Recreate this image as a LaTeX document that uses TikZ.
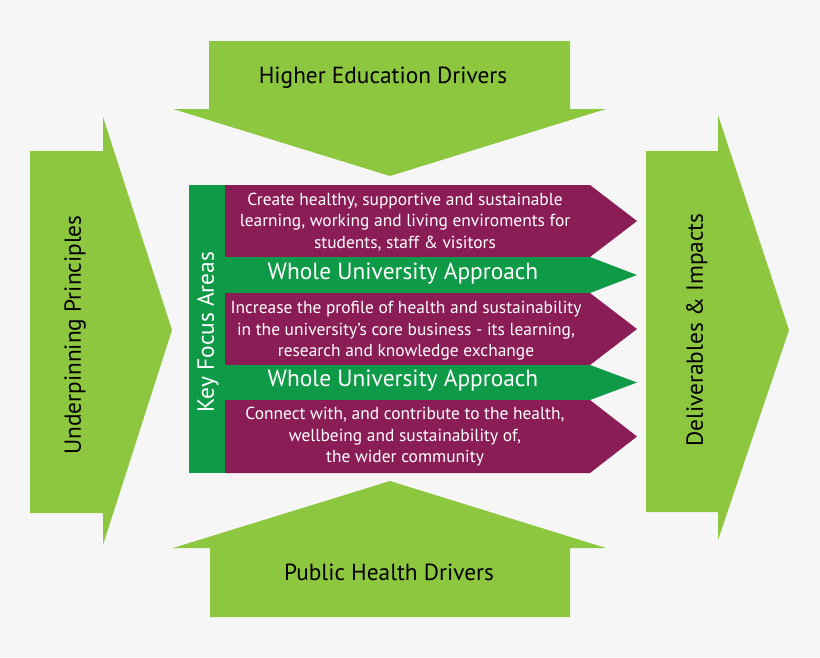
\documentclass[tikz,border=0pt]{standalone}
\usepackage{fontspec}
\setmainfont{PT Sans}
\definecolor{leaf}{HTML}{8DC63F}
\definecolor{plum}{HTML}{8B1D56}
\definecolor{forest}{HTML}{0F9A48}
\definecolor{paper}{HTML}{F6F6F6}
\begin{document}
\begin{tikzpicture}
  [
    x=1pt, y=-1pt,
    driver/.style={fill=leaf},
    focus/.style={fill=plum},
    whole/.style={fill=forest},
    drvtext/.style={text=black, font=\fontsize{23.3}{27}\selectfont, inner sep=0pt},
    focustext/.style={text=white, align=center, inner sep=0pt,
      font=\fontsize{17.4}{21.5}\selectfont},
    wholetext/.style={text=white, inner sep=0pt, font=\fontsize{23.4}{27}\selectfont}
  ]
  \useasboundingbox (0,0) rectangle (820,657);
  \fill [paper] (0,0) rectangle (820,657);

  % big drivers arrows
  \fill [driver] (209,41) -- (570,41) -- (570,109) -- (606,109) -- (390,176)
    -- (173,109) -- (209,109) -- cycle;
  \fill [driver] (210,617) -- (570,617) -- (570,548) -- (606,548) -- (390,481)
    -- (173,548) -- (210,548) -- cycle;
  \fill [driver] (30,151) -- (103,151) -- (103,117) -- (172,330) -- (103,545)
    -- (103,513) -- (30,513) -- cycle;
  \fill [driver] (646,151) -- (718,151) -- (718,115) -- (789,330) -- (718,540)
    -- (718,512) -- (646,512) -- cycle;

  \node (he) at (383,78) [drvtext] {Higher Education Drivers};
  \node (ph) at (389,572) [drvtext] {Public Health Drivers};
  \node (up) at (75,335) [drvtext, rotate=90] {Underpinning Principles};
  \node (di) at (697,330) [drvtext, rotate=90] {Deliverables \& Impacts};

  % key focus areas
  \fill [whole] (189,185) rectangle (225,473);
  \node (kf) at (208,332) [wholetext, rotate=90] {Key Focus Areas};

  \fill [focus] (225,185) -- (590,185) -- (637,221) -- (590,257) -- (225,257) -- cycle;
  \fill [whole] (225,257) -- (590,257) -- (637,275) -- (590,293) -- (225,293) -- cycle;
  \fill [focus] (225,293) -- (590,293) -- (637,329) -- (590,365) -- (225,365) -- cycle;
  \fill [whole] (225,365) -- (590,365) -- (637,382.5) -- (590,400) -- (225,400) -- cycle;
  \fill [focus] (225,400) -- (590,400) -- (637,436.5) -- (590,473) -- (225,473) -- cycle;

  \node (f1) at (405,222) [focustext] {Create healthy, supportive and sustainable\\
    learning, working and living enviroments for\\ students, staff \& visitors};
  \node (w1) at (403,274) [wholetext] {Whole University Approach};
  \node (f2) at (406,331) [focustext] {Increase the profile of health and sustainability\\
    in the university’s core business - its learning,\\ research and knowledge exchange};
  \node (w2) at (403,381) [wholetext] {Whole University Approach};
  \node (f3) at (405,437) [focustext] {Connect with, and contribute to the health,\\
    wellbeing and sustainability of,\\ the wider community};
\end{tikzpicture}
\end{document}
